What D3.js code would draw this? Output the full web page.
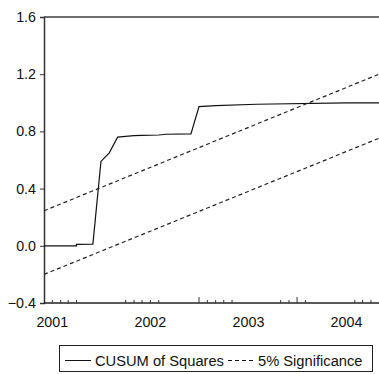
<!DOCTYPE html>
<html>
<head>
<meta charset="utf-8">
<script src="https://cdn.jsdelivr.net/npm/d3@7"></script>
<style>
  body { margin: 0; background: #fff; }
  text { font-family: "Liberation Sans", Arial, sans-serif; }
</style>
</head>
<body>
<script>
// chart data
var cusumDates = ['2000-12', '2001-04', '2001-04', '2001-06', '2001-07', '2001-08', '2001-09',
    '2001-10', '2001-11', '2001-12', '2002-02', '2002-03', '2002-06', '2002-07', '2002-09',
    '2003-02', '2004-01', '2004-05']
var cusumValues = [0.0, 0.0, 0.01, 0.012, 0.59, 0.65, 0.76,
    0.765, 0.77, 0.772, 0.775, 0.78, 0.782, 0.973, 0.98,
    0.99, 1.0, 1.0]

var boundDates = ['2000-12', '2004-05']
var upperBound = [0.245, 1.20]
var lowerBound = [-0.2, 0.752]

var yTicks = [-0.4, 0.0, 0.4, 0.8, 1.2, 1.6]
var xLabels = ['2001', '2002', '2003', '2004']
var minorTickDates = ['2001-01', '2001-02', '2001-03', '2001-04',
    '2001-10', '2001-11', '2001-12', '2002-01', '2002-02',
    '2002-08', '2002-09', '2002-10', '2002-11',
    '2003-05', '2003-06', '2003-08',
    '2004-02', '2004-03', '2004-04']
var majorTickDates = ['2002-07', '2003-07']

var legendNames = ['CUSUM of Squares', '5% Significance']

var W = 379, H = 374
var margin = { top: 17, right: 0, bottom: 71, left: 44 }
var width = W - margin.left - margin.right
var height = H - margin.top - margin.bottom

var parseMonth = d3.timeParse('%Y-%m')
var parseYear = d3.timeParse('%Y')

var x = d3.scaleTime()
    .domain([parseMonth('2000-12'), parseMonth('2004-05')])
    .range([0, width])
var y = d3.scaleLinear().domain([-0.4, 1.6]).range([height, 0])

var svg = d3.select('body').append('svg')
    .attr('width', W)
    .attr('height', H)

var g = svg.append('g')
    .attr('transform', 'translate(' + margin.left + ',' + margin.top + ')')

// top border
g.append('line')
    .attr('x1', 0).attr('x2', width)
    .attr('y1', 0).attr('y2', 0)
    .attr('stroke', '#6e6e6e')
    .attr('stroke-width', 2)

// y axis
var yAxis = g.append('g')
    .call(d3.axisLeft(y).tickValues(yTicks).tickFormat(d3.format('.1f')).tickSize(4).tickPadding(4))
yAxis.select('.domain').attr('stroke', '#333').attr('stroke-width', 1.5)
yAxis.selectAll('.tick line').attr('stroke', '#333')
yAxis.selectAll('text').attr('font-size', 14.3).attr('fill', '#111')
    .attr('font-family', '"Liberation Sans", Arial, sans-serif')

// x axis with inward ticks
var xAxis = g.append('g')
    .attr('transform', 'translate(0,' + height + ')')
xAxis.append('line')
    .attr('x1', 0).attr('x2', width)
    .attr('stroke', '#222').attr('stroke-width', 1.5)
xAxis.selectAll('.minor')
    .data(minorTickDates)
    .enter().append('line')
    .attr('x1', d => x(parseMonth(d))).attr('x2', d => x(parseMonth(d)))
    .attr('y1', 0).attr('y2', -3)
    .attr('stroke', '#333')
xAxis.selectAll('.major')
    .data(majorTickDates)
    .enter().append('line')
    .attr('x1', d => x(parseMonth(d))).attr('x2', d => x(parseMonth(d)))
    .attr('y1', 0).attr('y2', -6)
    .attr('stroke', '#333')
xAxis.selectAll('text')
    .data(xLabels)
    .enter().append('text')
    .attr('x', d => x(parseYear(d)))
    .attr('y', 24)
    .attr('text-anchor', 'middle')
    .attr('font-size', 14.3)
    .attr('fill', '#111')
    .text(d => d)

// lines
var line = d3.line()
    .x(d => x(d.date))
    .y(d => y(d.value))

var cusum = cusumDates.map((d, i) => ({ date: parseMonth(d), value: cusumValues[i] }))
var upper = boundDates.map((d, i) => ({ date: parseMonth(d), value: upperBound[i] }))
var lower = boundDates.map((d, i) => ({ date: parseMonth(d), value: lowerBound[i] }))

g.append('path')
    .datum(cusum)
    .attr('fill', 'none')
    .attr('stroke', '#111')
    .attr('stroke-width', 1.2)
    .attr('d', line)

;[upper, lower].forEach(b => {
    g.append('path')
        .datum(b)
        .attr('fill', 'none')
        .attr('stroke', '#222')
        .attr('stroke-width', 1.2)
        .attr('stroke-dasharray', '4,3')
        .attr('d', line)
})

// legend
var legend = svg.append('g')
legend.append('rect')
    .attr('x', 59.5).attr('y', 345.5)
    .attr('width', 313).attr('height', 26)
    .attr('fill', 'none')
    .attr('stroke', '#222')
legend.append('line')
    .attr('x1', 65).attr('x2', 91)
    .attr('y1', 360.5).attr('y2', 360.5)
    .attr('stroke', '#111')
legend.append('text')
    .attr('x', 95).attr('y', 366)
    .attr('font-size', 14.7)
    .attr('fill', '#111')
    .text(legendNames[0])
legend.append('line')
    .attr('x1', 228).attr('x2', 254)
    .attr('y1', 360.5).attr('y2', 360.5)
    .attr('stroke', '#111')
    .attr('stroke-dasharray', '4,3')
legend.append('text')
    .attr('x', 258).attr('y', 366)
    .attr('font-size', 14.7)
    .attr('fill', '#111')
    .text(legendNames[1])
</script>
</body>
</html>
